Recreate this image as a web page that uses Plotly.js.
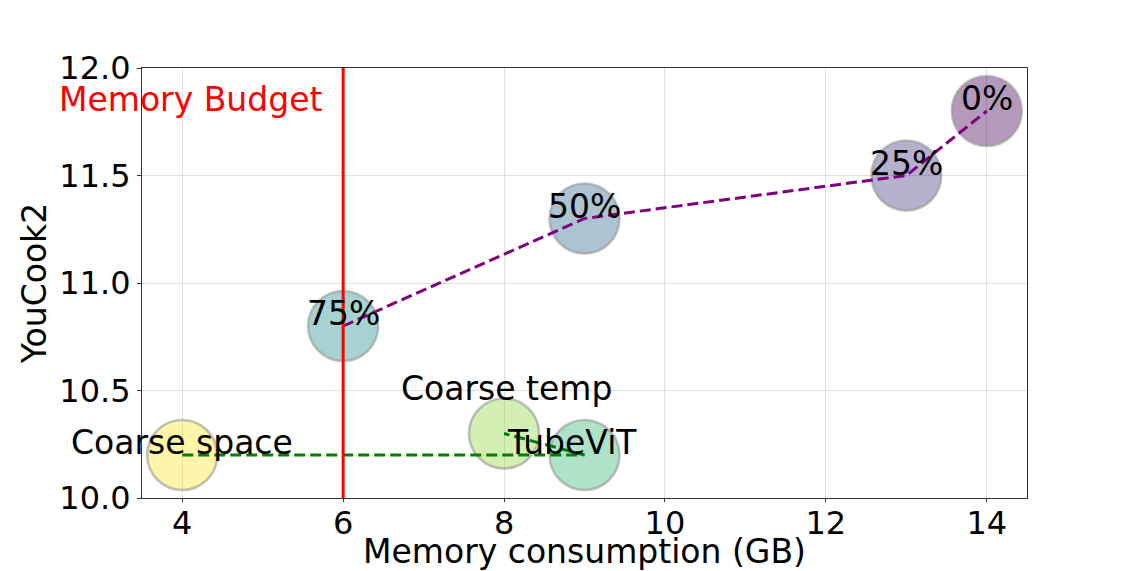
<!DOCTYPE html>
<html><head><meta charset="utf-8">
<script src="https://cdn.plot.ly/plotly-3.0.1.min.js"></script>
<style>body{margin:0;background:#fff}#c{width:1142px;height:571px}</style>
</head><body><div id="c"></div>
<script>
const labels = ["0%", "25%", "50%", "75%", "TubeViT", "Coarse temp", "Coarse space"];
const memory = [14, 13, 9, 6, 9, 8, 4];
const youcook = [11.8, 11.5, 11.3, 10.8, 10.2, 10.3, 10.2];
const colors = ["rgba(68,1,84,0.4)", "rgba(68,57,131,0.4)", "rgba(49,104,142,0.4)", "rgba(33,145,140,0.4)", "rgba(53,183,121,0.4)", "rgba(144,215,67,0.4)", "rgba(253,231,37,0.4)"];
const pruneX = [6, 9, 13, 14];
const pruneY = [10.8, 11.3, 11.5, 11.8];
const coarseX = [4, 9, 8];
const coarseY = [10.2, 10.2, 10.3];
const labelX = [14, 13, 9, 6, 8.85, 8.03, 4];
const labelY = [11.8, 11.5, 11.3, 10.8, 10.2, 10.45, 10.2];
const budget = 6;
const budgetLabel = "Memory Budget";

const font = {family: "DejaVu Sans", size: 33, color: "#000"};
const tickFont = {family: "DejaVu Sans", size: 32, color: "#000"};
const traces = [
  {x: memory, y: youcook, mode: "markers", type: "scatter", hoverinfo: "none",
   marker: {size: 70, color: colors, line: {color: "rgba(150,150,150,0.6)", width: 2.5}}},
  {x: pruneX, y: pruneY, mode: "lines", type: "scatter",
   line: {color: "purple", width: 3, dash: "11px,5px"}},
  {x: coarseX, y: coarseY, mode: "lines", type: "scatter",
   line: {color: "green", width: 3, dash: "11px,5px"}},
  {x: [budget, budget], y: [10.0, 12.0], mode: "lines", type: "scatter",
   line: {color: "red", width: 3}}
];
const annotations = labels.map((t, i) => ({
  x: labelX[i], y: labelY[i], text: t, showarrow: false, xanchor: "center", yanchor: "bottom",
  yshift: -9, font: font
}));
annotations.push({x: 4.1, y: 11.78, text: budgetLabel, showarrow: false, xanchor: "center", yanchor: "bottom",
  yshift: -6, font: {family: "DejaVu Sans", size: 33, color: "red"}});
const layout = {
  width: 1142, height: 571, showlegend: false,
  paper_bgcolor: "#fff", plot_bgcolor: "#fff",
  margin: {l: 142, r: 115, t: 68, b: 73},
  font: font,
  xaxis: {range: [3.5, 14.5], tickvals: [4, 6, 8, 10, 12, 14], ticks: "outside", ticklen: 3, tickcolor: "#333",
    ticklabelstandoff: -6,
    showgrid: true, gridcolor: "#e0e0e0", gridwidth: 1, zeroline: false, showline: true, linecolor: "#333", mirror: true,
    tickfont: tickFont, title: {text: "Memory consumption (GB)", font: font, standoff: 2}},
  yaxis: {range: [10.0, 12.0], tickvals: [10.0, 10.5, 11.0, 11.5, 12.0], tickformat: ".1f", ticks: "outside", ticklen: 4, tickcolor: "#333",
    showgrid: true, gridcolor: "#e0e0e0", gridwidth: 1, zeroline: false, showline: true, linecolor: "#333", mirror: true,
    tickfont: tickFont, title: {text: "YouCook2", font: font, standoff: 2}},
  annotations: annotations
};
Plotly.newPlot("c", traces, layout, {displayModeBar: false, staticPlot: true});
</script></body></html>
